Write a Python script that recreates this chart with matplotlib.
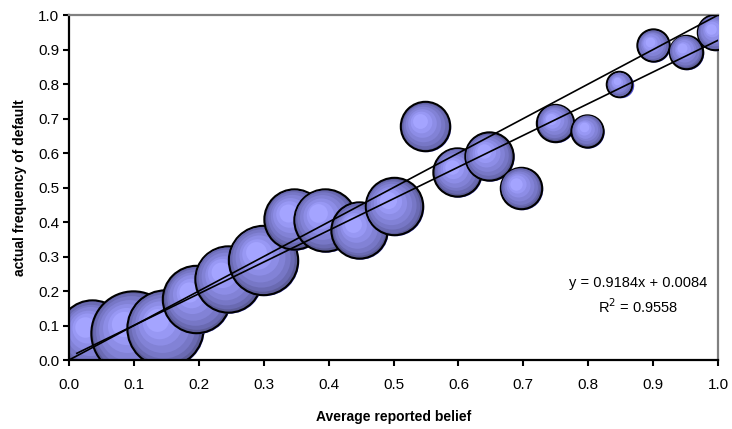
import numpy as np
import matplotlib
matplotlib.use("Agg")
import matplotlib.pyplot as plt
from matplotlib.transforms import offset_copy

plt.rcParams['font.family'] = ['Liberation Sans', 'DejaVu Sans']

# data
avg_belief = [0.036, 0.098, 0.148, 0.196, 0.245, 0.299, 0.347, 0.394, 0.447, 0.500,
              0.549, 0.598, 0.647, 0.696, 0.749, 0.798, 0.848, 0.900, 0.950, 0.995]
freq_default = [0.075, 0.078, 0.093, 0.178, 0.235, 0.291, 0.409, 0.406, 0.377, 0.446,
                0.678, 0.546, 0.591, 0.499, 0.688, 0.665, 0.800, 0.912, 0.894, 0.950]
n_obs = [306, 462, 380, 298, 289, 315, 240, 256, 210, 218,
         163, 156, 156, 116, 95, 72, 46, 72, 77, 86]
slope, intercept, r2 = 0.9184, 0.0084, 0.9558
ticks = np.round(np.arange(0, 1.01, 0.1), 1)

fig = plt.figure(figsize=(7.32, 4.29), dpi=100)
ax = fig.add_axes([0.0943, 0.1608, 0.8867, 0.8042])

# gradient rings (fraction of radius, colour)
fracs = [1.0, 0.93, 0.84, 0.72, 0.58, 0.44, 0.3]
ring_colors = ['#5c5c98', '#6a6ab2', '#7777c6', '#8282d6', '#8d8de6', '#9898f4', '#a4a4ff']

for i, (x, y, n) in enumerate(zip(avg_belief, freq_default, n_obs)):
  r_pt = 1.44 * np.sqrt(n) - 0.6
  z = 2 + i * 0.05
  # thin blue shadow to the lower right
  tr = offset_copy(ax.transData, fig=fig, x=0.8, y=-0.8, units='points')
  ax.scatter([x], [y], s=(2 * r_pt) ** 2, color='#5050d0', lw=0, transform=tr, zorder=z)
  for k, (f, c) in enumerate(zip(fracs, ring_colors)):
    shift = (1 - f) * r_pt * 0.3
    tr = offset_copy(ax.transData, fig=fig, x=-shift, y=shift, units='points')
    if k == 0:
      ax.scatter([x], [y], s=(2 * r_pt) ** 2, color=c, edgecolors='black',
                 linewidths=1.5, transform=tr, zorder=z + 0.01)
    else:
      ax.scatter([x], [y], s=(2 * r_pt * f) ** 2, color=c, lw=0,
                 transform=tr, zorder=z + 0.01 + k * 0.001)

# reference line y = x and the linear trend
ax.plot([0, 1], [0, 1], color='black', lw=1.2, zorder=10)
xs = np.array([0.012, 1.0])
ax.plot(xs, slope * xs + intercept, color='black', lw=1.2, zorder=10)

ax.text(0.877, 0.186, f"y = {slope}x + {intercept}\nR$^2$ = {r2}", transform=ax.transAxes,
        ha='center', va='center', fontsize=10.5, linespacing=1.45)

ax.set_xlim(0, 1)
ax.set_ylim(0, 1)
ax.set_xticks(ticks)
ax.set_yticks(ticks)
ax.set_xticklabels([f"{v:.1f}" for v in ticks], fontsize=11)
ax.set_yticklabels([f"{v:.1f}" for v in ticks], fontsize=11)
ax.tick_params(axis='x', direction='out', length=4, width=1.5, pad=9)
ax.tick_params(axis='y', direction='out', length=4, width=1.5, pad=3)
for s in ['left', 'bottom']:
  ax.spines[s].set_color('black')
  ax.spines[s].set_linewidth(1.6)
for s in ['top', 'right']:
  ax.spines[s].set_color('#808080')
  ax.spines[s].set_linewidth(1.6)

ax.set_xlabel("Average reported belief", fontsize=10, fontweight='bold', labelpad=13)
ax.set_ylabel("actual frequency of default", fontsize=10, fontweight='bold', labelpad=8)

fig.savefig("out.png", dpi=100)
